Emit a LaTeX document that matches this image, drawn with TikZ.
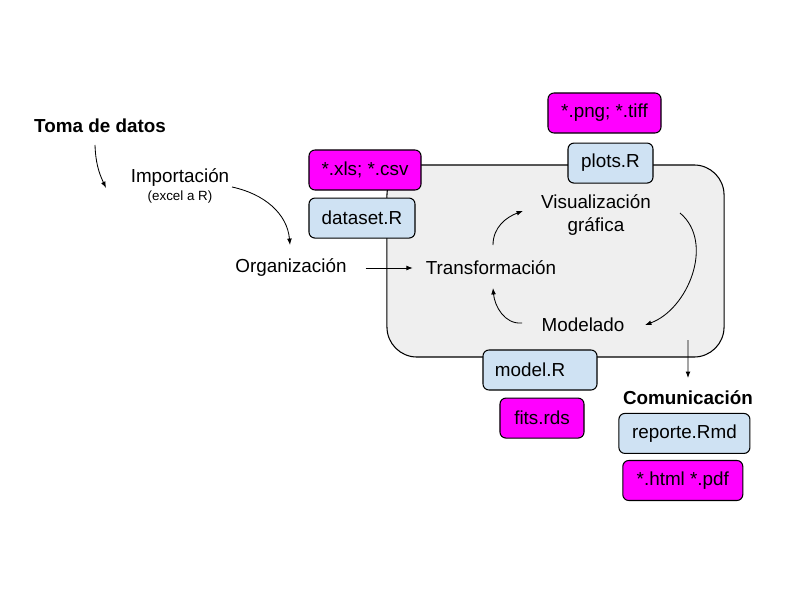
\documentclass[tikz,border=0pt]{standalone}
\usepackage{fontspec}
\setmainfont{Liberation Sans}
\usepackage{xcolor}
\usetikzlibrary{arrows.meta,positioning,calc}
\definecolor{cmag}{HTML}{FF00FF}
\definecolor{cazul}{HTML}{CFE2F3}
\definecolor{cgris}{HTML}{EFEFEF}

\begin{document}
\begin{tikzpicture}[x=0.025cm,y=0.025cm,
  font=\fontsize{13.4}{15.8}\selectfont,
  caja/.style={draw=black,line width=0.75pt,rounded corners=0.15cm,
               minimum height=1cm,inner sep=2pt},
  arch/.style={caja,fill=cmag},
  scr/.style={caja,fill=cazul},
  etq/.style={inner sep=2pt,align=center},
  fase/.style={etq,font=\fontsize{13.4}{15.8}\selectfont\bfseries},
  flecha/.style={-{Latex[length=1.6mm,width=1.2mm]},line width=0.6pt}
]
\useasboundingbox (0,0) rectangle (800,600);

% ciclo de analisis
\node[draw=black,fill=cgris,line width=0.75pt,rounded corners=0.75cm,
      minimum width=8.425cm,minimum height=4.8cm] (ciclo) at (555.5,339) {};

\node[fase] (toma) at (100,474) {Toma de datos};
\node[etq] (impor) at (180,422) {Importación};
\node[etq,font=\fontsize{9.5}{11}\selectfont] (exc) at (180,403) {(excel a R)};
\node[etq] (org) at (291,332) {Organización};
\node[etq] (trans) at (491,332) {Transformación};
\node[etq] (vis) at (596,385) {Visualización\\gráfica};
\node[etq] (model) at (583,275) {Modelado};
\node[fase] (comu) at (688,202) {Comunicación};

% archivos
\node[arch,minimum width=2.8cm] (xls) at (365,430) {*.xls; *.csv};
\node[scr,minimum width=2.65cm,below right=0.175cm and 0cm of xls.south west] (dataset) {dataset.R};
\node[arch,minimum width=2.825cm] (png) at (604.5,487) {*.png; *.tiff};
\node[scr,minimum width=2.125cm,below=0.225cm of png,xshift=0.15cm] (plots) {plots.R};
\node[scr,text width=2.25cm,align=left,inner xsep=0.3cm] (modelR) at (540,230) {model.R};
\node[arch,minimum width=2.1cm,below=0.175cm of modelR,xshift=0.05cm] (fits) {fits.rds};
\node[scr,minimum width=3.275cm,below=0.12cm of comu,xshift=-0.09cm] (reporte) {reporte.Rmd};
\node[arch,minimum width=3cm,below=0.15cm of reporte,xshift=-0.04cm] (html) {*.html *.pdf};

% flechas
\draw[flecha] ($(toma)+(-5,-19)$) to[out=-88,in=115] ($(impor)+(-74,-10)$);
\draw[flecha] ($(impor)+(52,-9)$) to[out=-12,in=95] ($(org)+(-1,23)$);
\draw[flecha,shorten <=0.4cm,shorten >=0.25cm] (org) -- (trans);
\draw[flecha] ($(trans)+(2,23)$) to[out=90,in=200] ($(vis)+(-73,4)$);
\draw[flecha] ($(vis)+(84,2)$) to[out=-40,in=20] ($(model)+(62,0)$);
\draw[flecha] ($(model)+(-61,2)$) to[out=185,in=-85] ($(trans)+(2,-20)$);
\draw[flecha] ($(ciclo)+(132.5,-79)$) -- ($(comu)+(0,20)$);
\end{tikzpicture}
\end{document}
